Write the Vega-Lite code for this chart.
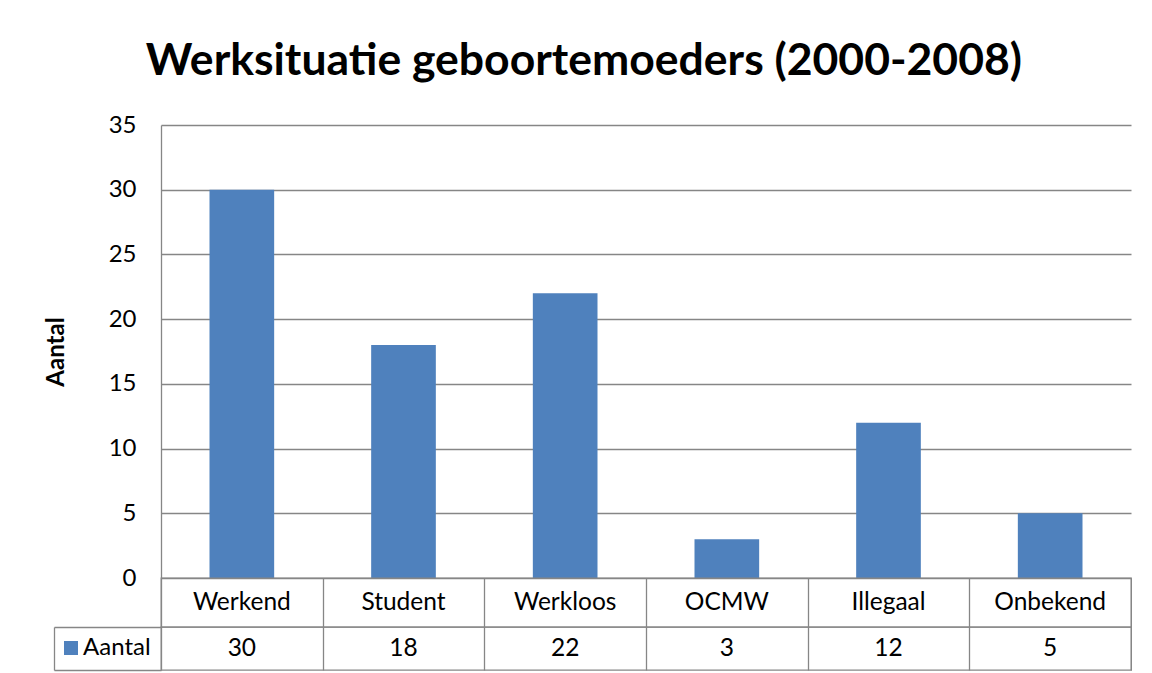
{
  "$schema": "https://vega.github.io/schema/vega-lite/v6.json",
  "background": "white",
  "padding": {"left": 44, "top": 38, "right": 0, "bottom": 0},
  "spacing": 0,
  "bounds": "flush",
  "title": {"text": "Werksituatie geboortemoeders (2000-2008)", "font": "Lato", "fontSize": 44.5, "fontWeight": "bold", "color": "black", "anchor": "middle", "offset": 29, "dx": -4},
  "data": {"values": [
    {"cat": "Werkend", "n": 30, "series": "Aantal"},
    {"cat": "Student", "n": 18, "series": "Aantal"},
    {"cat": "Werkloos", "n": 22, "series": "Aantal"},
    {"cat": "OCMW", "n": 3, "series": "Aantal"},
    {"cat": "Illegaal", "n": 12, "series": "Aantal"},
    {"cat": "Onbekend", "n": 5, "series": "Aantal"}
  ]},
  "resolve": {"scale": {"x": "independent", "y": "independent"}},
  "config": {"font": "Lato", "axis": {"labelFont": "Lato", "titleFont": "Lato"}, "legend": {"labelFont": "Lato"}},
  "vconcat": [
    {
      "width": 970,
      "height": 453,
      "view": {"stroke": null},
      "mark": {"type": "bar"},
      "encoding": {
        "x": {"field": "cat", "type": "nominal", "sort": null, "axis": null, "scale": {"paddingInner": 0.6, "paddingOuter": 0.3}},
        "y": {"field": "n", "type": "quantitative", "scale": {"domain": [0, 35], "nice": false},
          "axis": {"values": [0, 5, 10, 15, 20, 25, 30, 35], "grid": true, "gridColor": "#868686", "gridWidth": 1.3, "domainColor": "#868686", "domainWidth": 1.3, "ticks": false, "labelPadding": 25, "labelFontSize": 24, "labelColor": "black", "title": "Aantal", "titleFontSize": 24, "titleFontWeight": "bold", "titleColor": "black", "titlePadding": 40}},
        "color": {"datum": "Aantal", "scale": {"range": ["#4F81BD"]},
          "legend": {"orient": "none", "legendX": -102, "legendY": 511, "title": null, "symbolType": "square", "symbolSize": 196, "symbolStrokeWidth": 0, "labelFontSize": 24, "labelColor": "black", "labelOffset": 0}}
      }
    },
    {
      "width": 970,
      "height": 49,
      "view": {"stroke": "#868686", "strokeWidth": 1.3},
      "mark": {"type": "text", "fontSize": 24.5, "color": "black", "baseline": "middle"},
      "encoding": {
        "x": {"field": "cat", "type": "nominal", "sort": null, "scale": {"type": "band", "paddingInner": 0, "paddingOuter": 0},
          "axis": {"title": null, "labels": false, "ticks": false, "domain": false, "grid": true, "tickBand": "extent", "gridColor": "#868686", "gridWidth": 1.3}},
        "text": {"field": "cat"}
      }
    },
    {
      "width": 970,
      "height": 43,
      "view": {"stroke": "#868686", "strokeWidth": 1.3},
      "mark": {"type": "text", "fontSize": 24.5, "color": "black", "baseline": "middle"},
      "encoding": {
        "x": {"field": "cat", "type": "nominal", "sort": null, "scale": {"type": "band", "paddingInner": 0, "paddingOuter": 0},
          "axis": {"title": null, "labels": false, "ticks": false, "domain": false, "grid": true, "tickBand": "extent", "gridColor": "#868686", "gridWidth": 1.3}},
        "y": {"field": "series", "type": "nominal", "scale": {"type": "band", "paddingInner": 0, "paddingOuter": 0},
          "axis": {"title": null, "labels": false, "domain": true, "domainColor": "#868686", "domainWidth": 1.3, "ticks": true, "tickBand": "extent", "tickSize": -107, "tickColor": "#868686", "tickWidth": 1.3, "offset": 107, "grid": false}},
        "text": {"field": "n"}
      }
    }
  ]
}
